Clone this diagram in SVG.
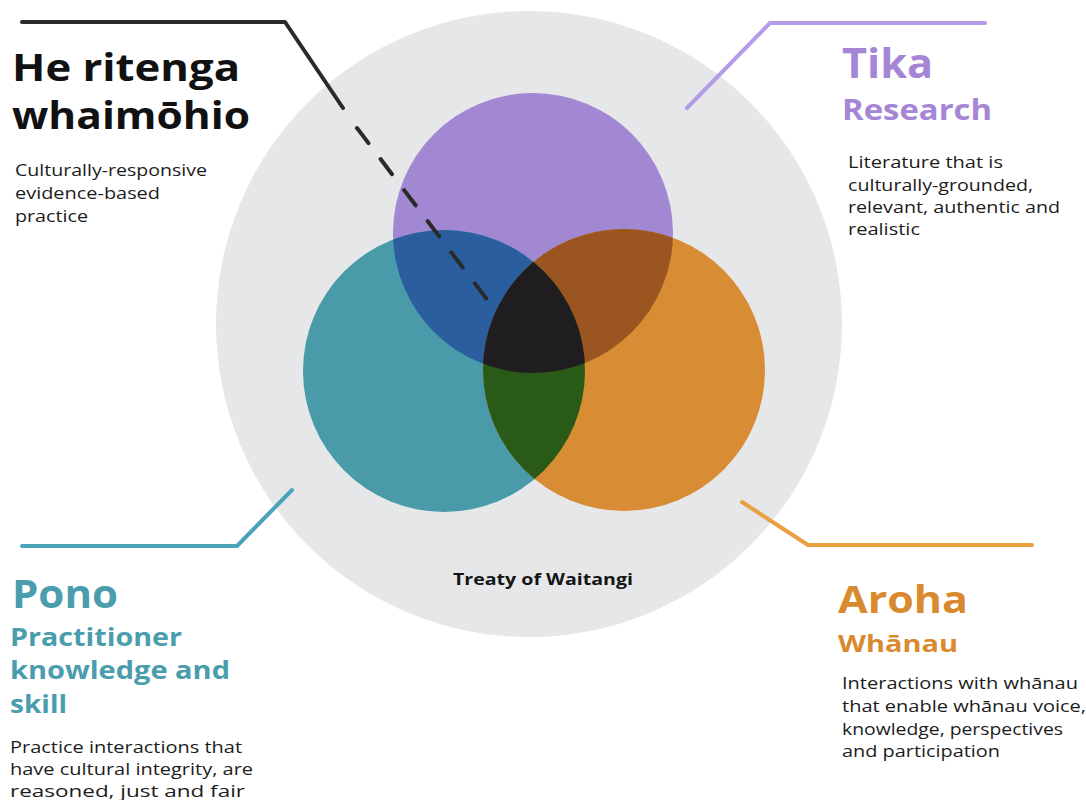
<svg xmlns="http://www.w3.org/2000/svg" width="1086" height="800" viewBox="0 0 1086 800">
  <style>
    .h { font-family: "Open Sans", "Liberation Sans", sans-serif; font-weight: 700; }
    .b { font-family: "Open Sans", "Liberation Sans", sans-serif; font-weight: 500; font-size: 16.5px; fill: #1c1c1c; }
    .tika { fill: #A586D6; }
    .pono { fill: #4A9DAC; }
    .aroha { fill: #D98A2E; }
    .lead { fill: none; stroke-width: 4; stroke-linecap: round; stroke-linejoin: round; }
  </style>
  <defs>
    <clipPath id="cP"><circle cx="533" cy="233" r="140"/></clipPath>
    <clipPath id="cT"><circle cx="444" cy="371" r="141"/></clipPath>
    <clipPath id="cO"><circle cx="624" cy="370" r="141"/></clipPath>
  </defs>
  <rect width="1086" height="800" fill="#ffffff"/>

  <g id="treaty">
    <circle cx="529" cy="324" r="313" fill="#E6E7E8"/>
    <text class="h" x="453" y="585" font-size="16" fill="#151515" textLength="180" lengthAdjust="spacingAndGlyphs">Treaty of Waitangi</text>
  </g>

  <g id="venn">
    <circle id="circle-tika" cx="533" cy="233" r="140" fill="#A287D3"/>
    <circle id="circle-pono" cx="444" cy="371" r="141" fill="#4A9BA9"/>
    <circle id="circle-aroha" cx="624" cy="370" r="141" fill="#D88C34"/>
    <circle cx="444" cy="371" r="141" fill="#2B5E9F" clip-path="url(#cP)"/>
    <circle cx="624" cy="370" r="141" fill="#9B5520" clip-path="url(#cP)"/>
    <circle cx="624" cy="370" r="141" fill="#2A5A18" clip-path="url(#cT)"/>
    <g clip-path="url(#cP)">
      <circle cx="624" cy="370" r="141" fill="#1F1D20" clip-path="url(#cT)"/>
    </g>
  </g>

  <g id="connectors">
    <polyline class="lead" stroke="#2a2a2a" points="22,22 285,22 343,108"/>
    <line class="lead" stroke="#2a2a2a" stroke-width="4.5" stroke-linecap="butt" stroke-dasharray="19 20" x1="357" y1="128" x2="492" y2="306"/>
    <polyline class="lead" stroke="#B49CE6" points="985,23 770,23 687,108"/>
    <polyline class="lead" stroke="#4AA3B8" points="22,546 237,546 292,490"/>
    <polyline class="lead" stroke="#E8A040" points="742,502 808,545 1032,545"/>
  </g>

  <g id="he-ritenga">
    <text class="h" x="12" y="81" font-size="38" fill="#111111" textLength="228" lengthAdjust="spacingAndGlyphs">He ritenga</text>
    <text class="h" x="12" y="129" font-size="38" fill="#111111" textLength="238" lengthAdjust="spacingAndGlyphs">whaimōhio</text>
    <text class="b" x="15" y="176" textLength="192" lengthAdjust="spacingAndGlyphs">Culturally-responsive</text>
    <text class="b" x="15" y="199" textLength="145" lengthAdjust="spacingAndGlyphs">evidence-based</text>
    <text class="b" x="15" y="222" textLength="73" lengthAdjust="spacingAndGlyphs">practice</text>
  </g>

  <g id="tika">
    <text class="h tika" x="842" y="78" font-size="41" textLength="91" lengthAdjust="spacingAndGlyphs">Tika</text>
    <text class="h tika" x="842" y="120" font-size="29" textLength="150" lengthAdjust="spacingAndGlyphs">Research</text>
    <text class="b" x="848" y="168" textLength="155" lengthAdjust="spacingAndGlyphs">Literature that is</text>
    <text class="b" x="848" y="191" textLength="185" lengthAdjust="spacingAndGlyphs">culturally-grounded,</text>
    <text class="b" x="848" y="213" textLength="212" lengthAdjust="spacingAndGlyphs">relevant, authentic and</text>
    <text class="b" x="848" y="235" textLength="72" lengthAdjust="spacingAndGlyphs">realistic</text>
  </g>

  <g id="pono">
    <text class="h pono" x="12" y="608" font-size="39" textLength="106" lengthAdjust="spacingAndGlyphs">Pono</text>
    <text class="h pono" x="10" y="646" font-size="25" textLength="172" lengthAdjust="spacingAndGlyphs">Practitioner</text>
    <text class="h pono" x="10" y="679" font-size="25" textLength="220" lengthAdjust="spacingAndGlyphs">knowledge and</text>
    <text class="h pono" x="10" y="713" font-size="25" textLength="57" lengthAdjust="spacingAndGlyphs">skill</text>
    <text class="b" x="10" y="753" textLength="232" lengthAdjust="spacingAndGlyphs">Practice interactions that</text>
    <text class="b" x="10" y="775" textLength="243" lengthAdjust="spacingAndGlyphs">have cultural integrity, are</text>
    <text class="b" x="10" y="797" textLength="235" lengthAdjust="spacingAndGlyphs">reasoned, just and fair</text>
  </g>

  <g id="aroha">
    <text class="h aroha" x="838" y="613" font-size="37" textLength="130" lengthAdjust="spacingAndGlyphs">Aroha</text>
    <text class="h aroha" x="838" y="652" font-size="23" textLength="120" lengthAdjust="spacingAndGlyphs">Whānau</text>
    <text class="b" x="842" y="689" textLength="236" lengthAdjust="spacingAndGlyphs">Interactions with whānau</text>
    <text class="b" x="842" y="712" textLength="244" lengthAdjust="spacingAndGlyphs">that enable whānau voice,</text>
    <text class="b" x="842" y="735" textLength="221" lengthAdjust="spacingAndGlyphs">knowledge, perspectives</text>
    <text class="b" x="842" y="757" textLength="158" lengthAdjust="spacingAndGlyphs">and participation</text>
  </g>
</svg>
